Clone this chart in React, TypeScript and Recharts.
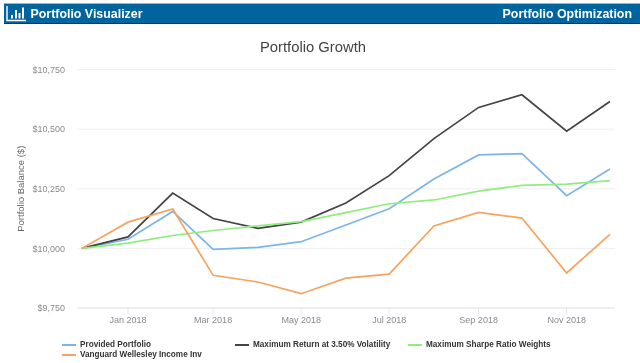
import React from 'react';
import { LineChart, Line, XAxis, YAxis, CartesianGrid, Legend } from 'recharts';

const dates = [
  '2017-11-30', '2018-01-01', '2018-02-01', '2018-03-01', '2018-04-01', '2018-05-01', '2018-06-01',
  '2018-07-01', '2018-08-01', '2018-09-01', '2018-10-01', '2018-11-01', '2018-12-01'
];
const provided = [10000, 10038, 10155, 9996, 10004, 10028, 10098, 10166, 10291, 10392, 10397, 10221, 10333];
const maxReturn = [10000, 10048, 10232, 10125, 10084, 10110, 10190, 10305, 10460, 10591, 10644, 10491, 10616];
const maxSharpe = [10000, 10022, 10054, 10075, 10094, 10112, 10150, 10187, 10203, 10240, 10264, 10269, 10284];
const wellesley = [10000, 10110, 10165, 9887, 9859, 9810, 9875, 9892, 10094, 10151, 10127, 9897, 10059];

const yTicks = [9750, 10000, 10250, 10500, 10750];
const xTickDates = ['2018-01-01', '2018-03-01', '2018-05-01', '2018-07-01', '2018-09-01', '2018-11-01'];
const monthNames = ['Jan', 'Feb', 'Mar', 'Apr', 'May', 'Jun', 'Jul', 'Aug', 'Sep', 'Oct', 'Nov', 'Dec'];

const DAY = 86400000;
const FONT = '"Liberation Sans", Arial, sans-serif';

const data = dates.map((d, i) => ({
  date: Date.parse(d),
  provided: provided[i],
  maxReturn: maxReturn[i],
  maxSharpe: maxSharpe[i],
  wellesley: wellesley[i]
}));

const xDomain = [Date.parse('2018-01-01') - 35 * DAY, Date.parse('2018-01-01') + 337.5 * DAY];

const formatMonth = (value: number) => {
  const d = new Date(value);
  return `${monthNames[d.getUTCMonth()]} ${d.getUTCFullYear()}`;
};

const formatDollar = (value: number) => `$${value.toLocaleString('en-US')}`;

// row and column of each legend entry, in series order
const legendSlots = [
  { left: 62, top: 339.5 },
  { left: 235, top: 339.5 },
  { left: 408, top: 339.5 },
  { left: 62, top: 349.5 }
];

function ChartLegend({ payload }: any) {
  return (
    <div>
      {(payload || []).map((entry: any, i: number) => (
        <div
          key={entry.value}
          style={{
            position: 'absolute',
            left: legendSlots[i].left,
            top: legendSlots[i].top,
            height: 10,
            display: 'flex',
            alignItems: 'center',
            whiteSpace: 'nowrap'
          }}
        >
          <span style={{ width: 14, height: 2, background: entry.color, marginRight: 4 }} />
          <span style={{ fontFamily: FONT, fontSize: 8.2, fontWeight: 700, color: '#333333' }}>{entry.value}</span>
        </div>
      ))}
    </div>
  );
}

function Header() {
  return (
    <div
      style={{
        position: 'absolute',
        left: 4,
        top: 3,
        width: 636,
        height: 21,
        boxSizing: 'border-box',
        background: '#00649f',
        borderTop: '1px solid #8db9d8',
        borderBottom: '1px solid #12324a',
        color: '#ffffff',
        fontFamily: FONT,
        fontWeight: 700,
        fontSize: 12.4,
        lineHeight: '20px'
      }}
    >
      <svg width={22} height={18} style={{ position: 'absolute', left: 2, top: 0 }}>
        <path d="M1 2 V16.5 H20" fill="none" stroke="#ffffff" strokeWidth={1.4} />
        <path d="M5 11h2v3.5H5zM9 6h2v8.5H9zM12.5 9h2v5.5h-2zM16 3.5h2v11h-2z" fill="#ffffff" />
      </svg>
      <span style={{ position: 'absolute', left: 26.5, top: 0 }}>Portfolio Visualizer</span>
      <span style={{ position: 'absolute', right: 8, top: 0 }}>Portfolio Optimization</span>
    </div>
  );
}

export default function App() {
  return (
    <div
      style={{
        position: 'absolute',
        left: 0,
        top: 0,
        width: 640,
        height: 363,
        background: '#ffffff',
        overflow: 'hidden',
        filter: 'blur(0.35px)'
      }}
    >
      <Header />
      <div
        style={{
          position: 'absolute',
          left: 0,
          width: 626,
          top: 38,
          textAlign: 'center',
          fontFamily: FONT,
          fontSize: 14.8,
          lineHeight: '18px',
          color: '#444444'
        }}
      >
        Portfolio Growth
      </div>
      <LineChart
        width={640}
        height={363}
        data={data}
        margin={{ top: 69.5, right: 25, bottom: 0, left: 0 }}
        style={{ position: 'absolute', left: 0, top: 0 }}
      >
        <CartesianGrid horizontal vertical={false} stroke="#eeeeee" strokeWidth={1} />
        <XAxis
          dataKey="date"
          type="number"
          scale="linear"
          domain={xDomain}
          ticks={xTickDates.map((d) => Date.parse(d))}
          tickFormatter={formatMonth}
          height={55}
          stroke="#dfe6f3"
          tickSize={6}
          tickMargin={3}
          interval={0}
          tick={{ fontFamily: FONT, fontSize: 9, fill: '#8a8a8a' }}
        />
        <YAxis
          type="number"
          domain={[9750, 10750]}
          ticks={yTicks}
          tickFormatter={formatDollar}
          width={77.5}
          axisLine={false}
          tickLine={false}
          tickMargin={6.5}
          interval={0}
          tick={{ fontFamily: FONT, fontSize: 9, fill: '#8a8a8a' }}
          label={{
            value: 'Portfolio Balance ($)',
            angle: -90,
            position: 'insideLeft',
            offset: 21,
            style: { fontFamily: FONT, fontSize: 9.5, fill: '#666666', textAnchor: 'middle' }
          }}
        />
        <Legend
          height={0}
          content={ChartLegend}
          itemSorter={null}
          wrapperStyle={{ left: 0, top: 0, bottom: 'auto', width: 640 }}
        />
        <Line dataKey="provided" name="Provided Portfolio" stroke="#7cb5ec" strokeWidth={1.7} dot={false} isAnimationActive={false} />
        <Line dataKey="maxReturn" name="Maximum Return at 3.50% Volatility" stroke="#434348" strokeWidth={1.7} dot={false} isAnimationActive={false} />
        <Line dataKey="maxSharpe" name="Maximum Sharpe Ratio Weights" stroke="#90ed7d" strokeWidth={1.7} dot={false} isAnimationActive={false} />
        <Line dataKey="wellesley" name="Vanguard Wellesley Income Inv" stroke="#f7a35c" strokeWidth={1.7} dot={false} isAnimationActive={false} />
      </LineChart>
    </div>
  );
}
